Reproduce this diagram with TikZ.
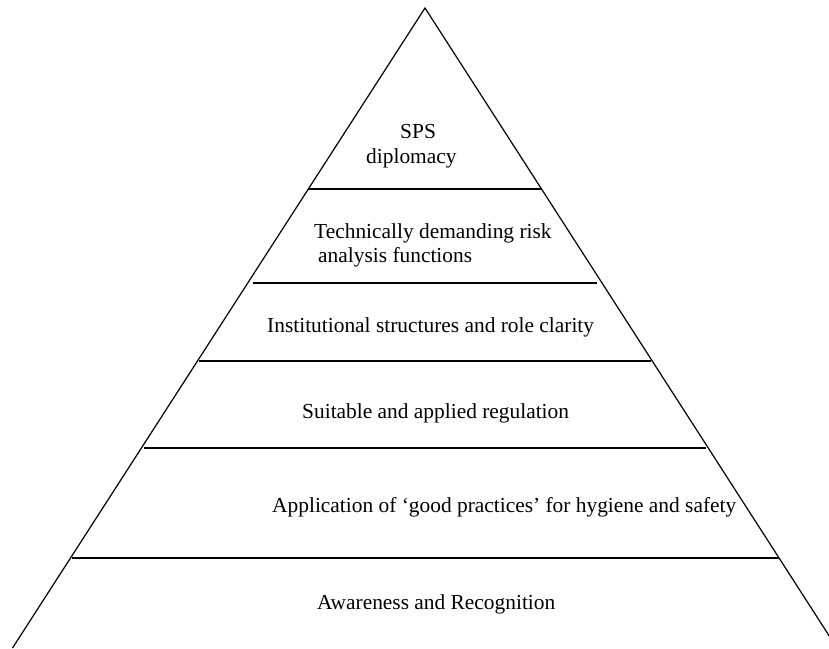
\documentclass[tikz,border=0pt]{standalone}
\usepackage{fontspec}
\setmainfont{Liberation Serif}
\begin{document}
\begin{tikzpicture}[x=1pt,y=-1pt,
  edge/.style={line width=1.2pt,black},
  lbl/.style={anchor=base west,inner sep=0pt,font=\fontsize{21.4}{25}\selectfont}]
\useasboundingbox (0,0) rectangle (829,648);
\fill[white] (0,0) rectangle (829,648);
\begin{scope}
\clip (0,0) rectangle (829,648);
\coordinate (apex) at (425,8);
\coordinate (bl) at (12.5,648);
\coordinate (br) at (837,648);
\draw[edge] (bl) -- (apex) -- (br);
\end{scope}
\coordinate (l1a) at (308,189); \coordinate (l1b) at (542,189);
\coordinate (l2a) at (253,283); \coordinate (l2b) at (597,283);
\coordinate (l3a) at (199,361); \coordinate (l3b) at (651,361);
\coordinate (l4a) at (144,448); \coordinate (l4b) at (706,448);
\coordinate (l5a) at (72,558); \coordinate (l5b) at (779,558);
\draw[edge] (l1a) -- (l1b);
\draw[edge] (l2a) -- (l2b);
\draw[edge] (l3a) -- (l3b);
\draw[edge] (l4a) -- (l4b);
\draw[edge] (l5a) -- (l5b);
\node[lbl] (t1a) at (400,138) {SPS};
\node[lbl] (t1b) at (366,163) {diplomacy};
\node[lbl] (t2a) at (314,238) {Technically demanding risk};
\node[lbl] (t2b) at (318,262) {analysis functions};
\node[lbl] (t3) at (267,332) {Institutional structures and role clarity};
\node[lbl] (t4) at (302,418) {Suitable and applied regulation};
\node[lbl] (t5) at (272,512) {Application of ‘good practices’ for hygiene and safety};
\node[lbl] (t6) at (317,609) {Awareness and Recognition};
\end{tikzpicture}
\end{document}
